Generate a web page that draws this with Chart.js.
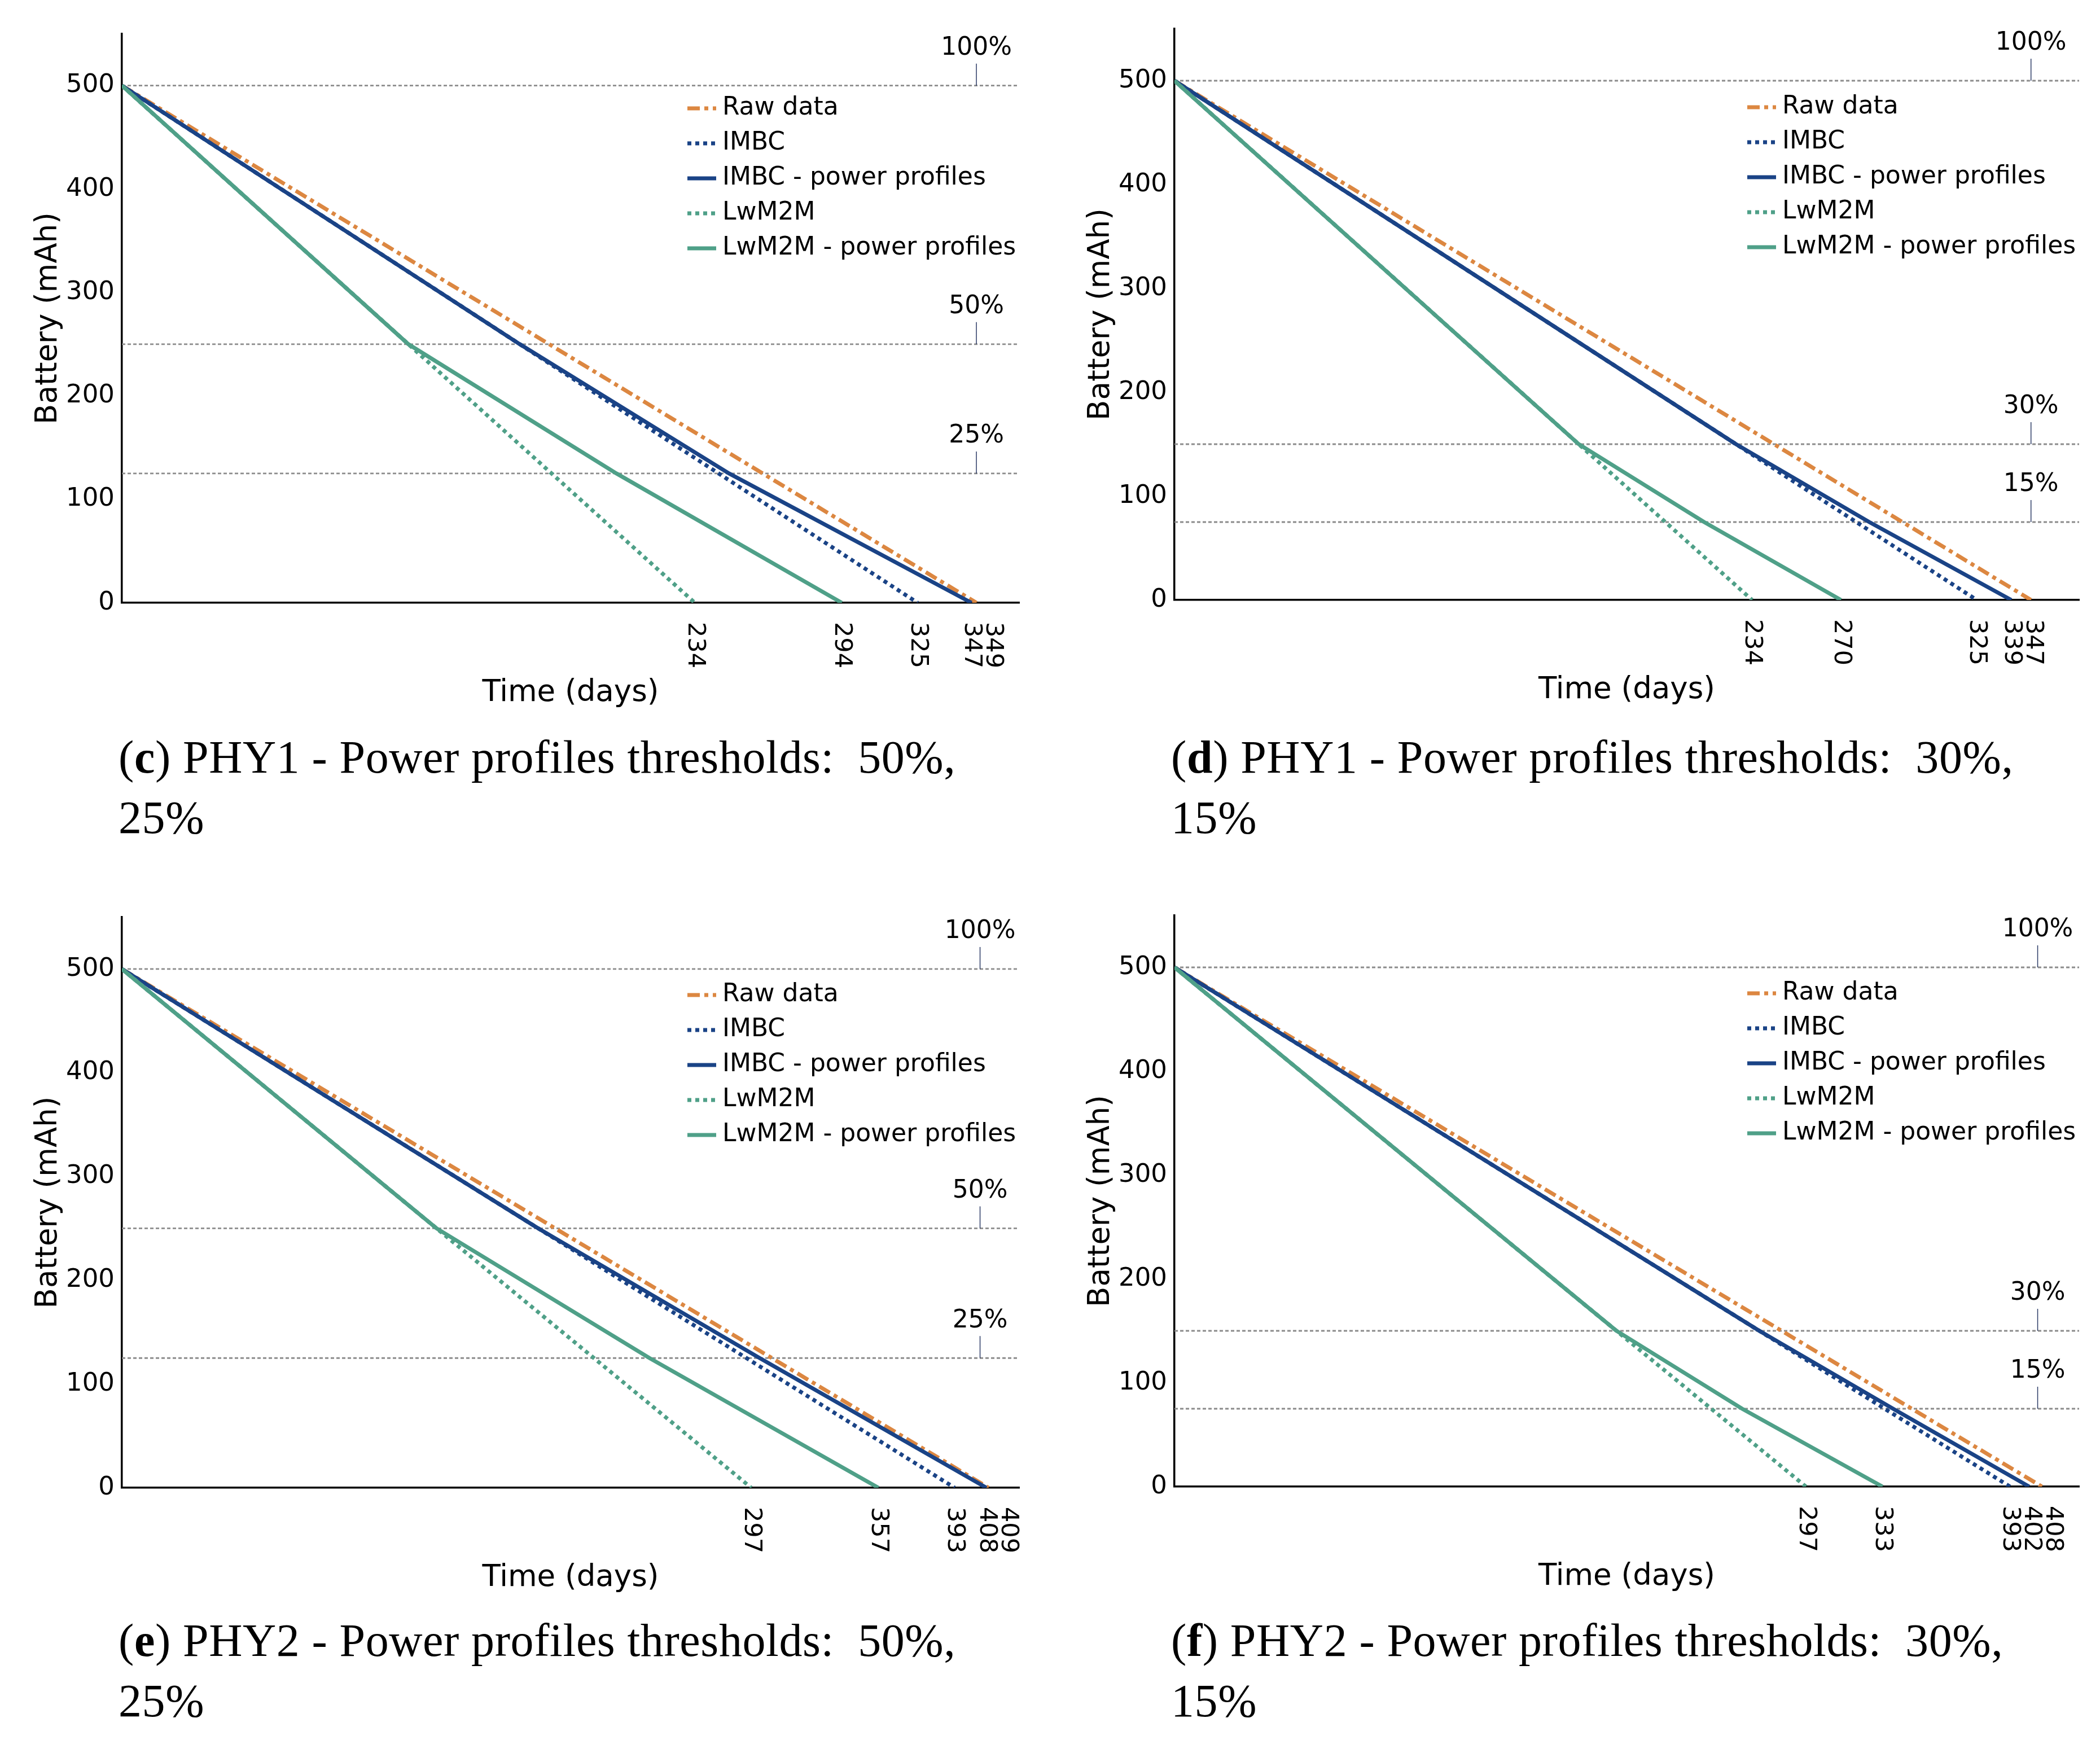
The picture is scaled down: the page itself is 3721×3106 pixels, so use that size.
<!DOCTYPE html>
<html>
<head>
<meta charset="utf-8">
<script src="https://cdn.jsdelivr.net/npm/chart.js@4.4.0/dist/chart.umd.min.js"></script>
<style>
    html, body { margin: 0; padding: 0; background: #fff; }
    body { width: 3721px; height: 3106px; position: relative; overflow: hidden; }
    canvas { position: absolute; }
    .caption {
        position: absolute;
        font-family: "Liberation Serif", serif;
        font-size: 82px;
        letter-spacing: 0.6px;
        line-height: 107px;
        color: #000;
        white-space: nowrap;
    }
</style>
</head>
<body>
<canvas id="chartC"></canvas>
<canvas id="chartD"></canvas>
<canvas id="chartE"></canvas>
<canvas id="chartF"></canvas>

<div class="caption" style="left:210px; top:1288px;">(<b>c</b>) PHY1 - Power profiles thresholds:&nbsp; 50%,<br>25%</div>
<div class="caption" style="left:2075px; top:1288px;">(<b>d</b>) PHY1 - Power profiles thresholds:&nbsp; 30%,<br>15%</div>
<div class="caption" style="left:210px; top:2853px;">(<b>e</b>) PHY2 - Power profiles thresholds:&nbsp; 50%,<br>25%</div>
<div class="caption" style="left:2075px; top:2853px;">(<b>f</b>) PHY2 - Power profiles thresholds:&nbsp; 30%,<br>15%</div>

<script>
// Shared axis data
const yTicks = [0, 100, 200, 300, 400, 500];
const yMax = 550;
const seriesNames = ['Raw data', 'IMBC', 'IMBC - power profiles', 'LwM2M', 'LwM2M - power profiles'];

// (c) PHY1 - thresholds 50% / 25%
const cRawDays = [0, 349];                 const cRawBatt = [500, 0];
const cImbcDays = [0, 325];                const cImbcBatt = [500, 0];
const cImbcPpDays = [0, 162.5, 248, 347];  const cImbcPpBatt = [500, 250, 125, 0];
const cLwDays = [0, 234];                  const cLwBatt = [500, 0];
const cLwPpDays = [0, 117, 202, 294];      const cLwPpBatt = [500, 250, 125, 0];
const cTickDays = [234, 294, 325, 347, 349];
const cThresholds = [500, 250, 125];
const cThresholdLabels = ['100%', '50%', '25%'];

// (d) PHY1 - thresholds 30% / 15%
const dRawDays = [0, 347];                 const dRawBatt = [500, 0];
const dImbcDays = [0, 325];                const dImbcBatt = [500, 0];
const dImbcPpDays = [0, 227.5, 281.5, 339]; const dImbcPpBatt = [500, 150, 75, 0];
const dLwDays = [0, 234];                  const dLwBatt = [500, 0];
const dLwPpDays = [0, 163.8, 214.6, 270];  const dLwPpBatt = [500, 150, 75, 0];
const dTickDays = [234, 270, 325, 339, 347];
const dThresholds = [500, 150, 75];
const dThresholdLabels = ['100%', '30%', '15%'];

// (e) PHY2 - thresholds 50% / 25%
const eRawDays = [0, 409];                 const eRawBatt = [500, 0];
const eImbcDays = [0, 393];                const eImbcBatt = [500, 0];
const eImbcPpDays = [0, 196.5, 301, 408];  const eImbcPpBatt = [500, 250, 125, 0];
const eLwDays = [0, 297];                  const eLwBatt = [500, 0];
const eLwPpDays = [0, 148.5, 249, 357];    const eLwPpBatt = [500, 250, 125, 0];
const eTickDays = [297, 357, 393, 408, 409];
const eThresholds = [500, 250, 125];
const eThresholdLabels = ['100%', '50%', '25%'];

// (f) PHY2 - thresholds 30% / 15%
const fRawDays = [0, 408];                 const fRawBatt = [500, 0];
const fImbcDays = [0, 393];                const fImbcBatt = [500, 0];
const fImbcPpDays = [0, 275.1, 338, 402];  const fImbcPpBatt = [500, 150, 75, 0];
const fLwDays = [0, 297];                  const fLwBatt = [500, 0];
const fLwPpDays = [0, 207.9, 267, 333];    const fLwPpBatt = [500, 150, 75, 0];
const fTickDays = [297, 333, 393, 402, 408];
const fThresholds = [500, 150, 75];
const fThresholdLabels = ['100%', '30%', '15%'];

// styles
const seriesColors = ['#DC8741', '#1A4386', '#1A4386', '#4FA088', '#4FA088'];
const seriesDashes = [[22, 8, 7, 8], [7, 7], [], [7, 7], []];
const FONT = '"DejaVu Sans", Verdana, sans-serif';

function pairs(days, batt) {
    return days.map((d, i) => ({ x: d, y: batt[i] }));
}

// draws the threshold notes, the rotated day labels and the legend
const panelDecor = {
    id: 'panelDecor',
    afterDraw(chart) {
        const opts = chart.options.plugins.panelDecor;
        const { ctx, chartArea } = chart;
        const xs = chart.scales.x, ys = chart.scales.y;
        ctx.save();

        // threshold notes
        const ax = xs.getPixelForValue(opts.noteDay);
        ctx.font = '44px ' + FONT;
        ctx.fillStyle = '#000';
        ctx.textAlign = 'center';
        ctx.textBaseline = 'middle';
        opts.thresholds.forEach((v, i) => {
            const py = ys.getPixelForValue(v);
            ctx.strokeStyle = '#2c3b66';
            ctx.lineWidth = 1.5;
            ctx.setLineDash([]);
            ctx.beginPath();
            ctx.moveTo(ax, py - 39);
            ctx.lineTo(ax, py);
            ctx.stroke();
            ctx.fillText(opts.thresholdLabels[i], ax, py - 66);
        });

        // x labels, turned to read downwards
        ctx.font = '43px ' + FONT;
        ctx.textAlign = 'left';
        let prev = -Infinity;
        xs.ticks.forEach(t => {
            let px = xs.getPixelForValue(t.value);
            if (px < prev + 38) px = prev + 38;
            prev = px;
            ctx.save();
            ctx.translate(px, chartArea.bottom + 34);
            ctx.rotate(Math.PI / 2);
            ctx.fillText(String(t.value), 0, 0);
            ctx.restore();
        });

        // legend
        ctx.font = '44px ' + FONT;
        ctx.textAlign = 'left';
        const sx = chartArea.right - 588;
        chart.data.datasets.filter(ds => !ds.isThreshold).forEach((ds, i) => {
            const ly = opts.legendY + i * 62;
            ctx.strokeStyle = ds.borderColor;
            ctx.lineWidth = ds.borderWidth;
            ctx.setLineDash(ds.borderDash);
            ctx.beginPath();
            ctx.moveTo(sx, ly);
            ctx.lineTo(sx + 51, ly);
            ctx.stroke();
            ctx.fillStyle = '#000';
            ctx.fillText(ds.label, sx + 62, ly);
        });
        ctx.restore();
    }
};

function buildPanel(id, box, curves, tickDays, thresholds, thresholdLabels, xMax, noteDay) {
    const canvas = document.getElementById(id);
    canvas.width = box.w;
    canvas.height = box.h;
    canvas.style.left = box.x + 'px';
    canvas.style.top = box.y + 'px';

    const datasets = curves.map((c, i) => ({
        label: seriesNames[i],
        data: pairs(c[0], c[1]),
        borderColor: seriesColors[i],
        borderDash: seriesDashes[i],
        borderWidth: 7,
        pointRadius: 0,
        fill: false,
        tension: 0,
        order: 10 - i
    }));
    thresholds.forEach(v => datasets.push({
        label: '',
        isThreshold: true,
        data: [{ x: 0, y: v }, { x: xMax, y: v }],
        borderColor: '#8c8c8c',
        borderDash: [6, 4],
        borderWidth: 2.8,
        pointRadius: 0,
        order: 20
    }));

    const lineH = 53 * 1.2;
    new Chart(canvas, {
        type: 'line',
        data: { datasets },
        plugins: [panelDecor],
        options: {
            responsive: false,
            animation: false,
            devicePixelRatio: 1,
            layout: {
                padding: { left: 0, top: box.top - box.y, right: box.x + box.w - box.right, bottom: 0 }
            },
            plugins: {
                legend: { display: false },
                tooltip: { enabled: false },
                panelDecor: { thresholds, thresholdLabels, noteDay, legendY: box.legendY - box.y }
            },
            scales: {
                x: {
                    type: 'linear',
                    min: 0,
                    max: xMax,
                    afterBuildTicks: s => { s.ticks = tickDays.map(v => ({ value: v })); },
                    afterFit: s => { s.height = box.y + box.h - box.bottom; },
                    grid: { display: false, drawTicks: false },
                    border: { display: true, color: '#000', width: 3.5 },
                    ticks: { display: false },
                    title: {
                        display: true,
                        text: 'Time (days)',
                        color: '#000',
                        font: { family: FONT, size: 53 },
                        padding: { top: 0, bottom: box.y + box.h - (box.bottom + 160) - lineH / 2 }
                    }
                },
                y: {
                    type: 'linear',
                    min: 0,
                    max: yMax,
                    afterBuildTicks: s => { s.ticks = yTicks.map(v => ({ value: v })); },
                    afterFit: s => { s.width = box.left - box.x; },
                    grid: { display: false, drawTicks: false },
                    border: { display: true, color: '#000', width: 3.5 },
                    ticks: { color: '#000', font: { family: FONT, size: 45 }, padding: 13 },
                    title: {
                        display: true,
                        text: 'Battery (mAh)',
                        color: '#000',
                        font: { family: FONT, size: 53 },
                        padding: { top: box.left - box.x - 130 - lineH / 2, bottom: 0 }
                    }
                }
            }
        }
    });
}

buildPanel('chartC',
    { x: 0, y: 0, w: 1870, h: 1290, left: 216, right: 1806, top: 60, bottom: 1068, legendY: 192 },
    [[cRawDays, cRawBatt], [cImbcDays, cImbcBatt], [cImbcPpDays, cImbcPpBatt], [cLwDays, cLwBatt], [cLwPpDays, cLwPpBatt]],
    cTickDays, cThresholds, cThresholdLabels, 366.5, 349);

buildPanel('chartD',
    { x: 1870, y: 0, w: 1851, h: 1290, left: 2081, right: 3684, top: 51, bottom: 1063, legendY: 190 },
    [[dRawDays, dRawBatt], [dImbcDays, dImbcBatt], [dImbcPpDays, dImbcPpBatt], [dLwDays, dLwBatt], [dLwPpDays, dLwPpBatt]],
    dTickDays, dThresholds, dThresholdLabels, 366.5, 347);

buildPanel('chartE',
    { x: 0, y: 1560, w: 1870, h: 1290, left: 216, right: 1806, top: 1625, bottom: 2636, legendY: 1763 },
    [[eRawDays, eRawBatt], [eImbcDays, eImbcBatt], [eImbcPpDays, eImbcPpBatt], [eLwDays, eLwBatt], [eLwPpDays, eLwPpBatt]],
    eTickDays, eThresholds, eThresholdLabels, 423.5, 405);

buildPanel('chartF',
    { x: 1870, y: 1560, w: 1851, h: 1290, left: 2081, right: 3684, top: 1622, bottom: 2634, legendY: 1760 },
    [[fRawDays, fRawBatt], [fImbcDays, fImbcBatt], [fImbcPpDays, fImbcPpBatt], [fLwDays, fLwBatt], [fLwPpDays, fLwPpBatt]],
    fTickDays, fThresholds, fThresholdLabels, 425.5, 406);
</script>
</body>
</html>
